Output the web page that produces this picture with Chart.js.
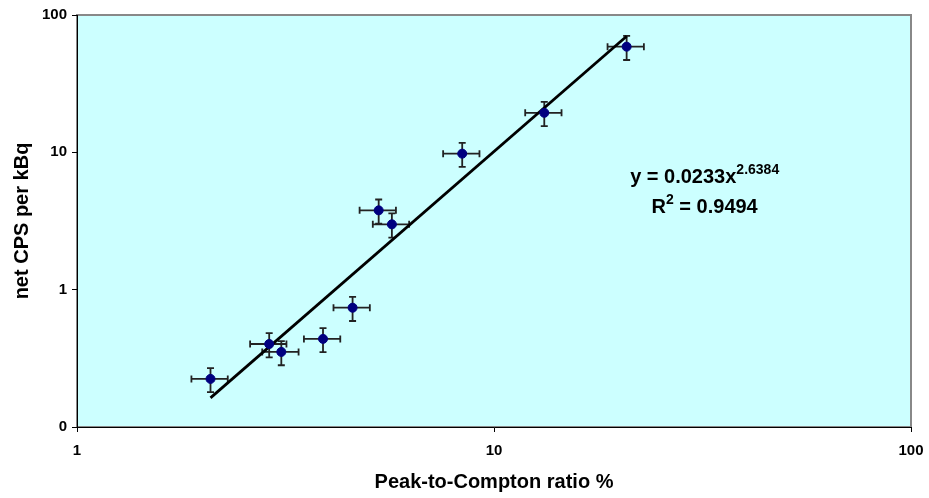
<!DOCTYPE html>
<html lang="en">
<head>
    <meta charset="UTF-8">
    <title>net CPS per kBq vs Peak-to-Compton ratio</title>
    <script src="https://cdn.jsdelivr.net/npm/chart.js"></script>
    <style>
        body {
            margin: 0;
            padding: 0;
            background-color: #ffffff;
        }
        .chart-container {
            position: relative;
            width: 929px;
            height: 498px;
        }
    </style>
</head>
<body>
    <div class="chart-container">
        <canvas id="pcChart"></canvas>
    </div>

    <script>
        const pcRatio = [2.09, 2.89, 3.09, 3.89, 4.58, 5.29, 5.69, 8.39, 13.2, 20.8];
        const cpsPerKBq = [0.224, 0.402, 0.352, 0.438, 0.739, 3.78, 2.99, 9.78, 19.4, 58.8];

        // Percentage error bars (Excel style)
        const xErrPct = 10;
        const yErrPct = 20;

        // Power trendline y = a * x^b
        const fitA = 0.0233;
        const fitB = 2.6384;
        const rSquared = 0.9494;

        // Tick labels
        const xTicks = [1, 10, 100];
        const yTicks = [0.1, 1, 10, 100];
        const yTickLabels = ['0', '1', '10', '100'];

        // where the equation label sits (data units)
        const eqAnchor = { x: 32, y: 6 };

        const FONT = '"Liberation Sans", Arial, Helvetica, sans-serif';
        Chart.defaults.font.family = FONT;
        Chart.defaults.color = '#000';

        const points = pcRatio.map((x, i) => ({ x: x, y: cpsPerKBq[i] }));
        const xMin = Math.min(...pcRatio);
        const xMax = Math.max(...pcRatio);
        const trendPoints = [xMin, xMax].map(x => ({ x: x, y: fitA * Math.pow(x, fitB) }));

        // plot area fill + grey frame
        const plotBackground = {
            id: 'plotBackground',
            beforeDraw(chart) {
                const { ctx, chartArea: a } = chart;
                ctx.save();
                ctx.fillStyle = '#CCFFFF';
                ctx.fillRect(a.left, a.top, a.right - a.left, a.bottom - a.top);
                ctx.strokeStyle = '#888888';
                ctx.lineWidth = 2;
                ctx.strokeRect(a.left, a.top, a.right - a.left, a.bottom - a.top);
                ctx.restore();
            }
        };

        const errorBars = {
            id: 'errorBars',
            beforeDatasetsDraw(chart) {
                const { ctx, scales: { x, y } } = chart;
                const cap = 3.5;
                ctx.save();
                ctx.strokeStyle = '#222222';
                ctx.lineWidth = 1.8;
                points.forEach(p => {
                    const px = x.getPixelForValue(p.x);
                    const py = y.getPixelForValue(p.y);
                    const xl = x.getPixelForValue(p.x * (1 - xErrPct / 100));
                    const xr = x.getPixelForValue(p.x * (1 + xErrPct / 100));
                    const yt = y.getPixelForValue(p.y * (1 + yErrPct / 100));
                    const yb = y.getPixelForValue(p.y * (1 - yErrPct / 100));
                    ctx.beginPath();
                    ctx.moveTo(xl, py); ctx.lineTo(xr, py);
                    ctx.moveTo(xl, py - cap); ctx.lineTo(xl, py + cap);
                    ctx.moveTo(xr, py - cap); ctx.lineTo(xr, py + cap);
                    ctx.moveTo(px, yt); ctx.lineTo(px, yb);
                    ctx.moveTo(px - cap, yt); ctx.lineTo(px + cap, yt);
                    ctx.moveTo(px - cap, yb); ctx.lineTo(px + cap, yb);
                    ctx.stroke();
                });
                ctx.restore();
            }
        };

        const equationLabel = {
            id: 'equationLabel',
            afterDraw(chart) {
                const { ctx, scales: { x, y } } = chart;
                const cx = x.getPixelForValue(eqAnchor.x);
                const by = y.getPixelForValue(eqAnchor.y);
                const big = 'bold 20px ' + FONT;
                const small = 'bold 14px ' + FONT;

                ctx.save();
                ctx.fillStyle = '#000';
                ctx.textBaseline = 'alphabetic';
                ctx.textAlign = 'left';

                // line 1: y = 0.0233x^2.6384
                const t1 = 'y = ' + fitA.toFixed(4) + 'x';
                const s1 = fitB.toFixed(4);
                ctx.font = big; const w1 = ctx.measureText(t1).width;
                ctx.font = small; const ws1 = ctx.measureText(s1).width;
                let left = cx - (w1 + ws1) / 2;
                ctx.font = big; ctx.fillText(t1, left, by);
                ctx.font = small; ctx.fillText(s1, left + w1, by - 9);

                // line 2: R^2 = 0.9494
                const by2 = by + 30;
                const r = 'R';
                const rest = ' = ' + rSquared.toFixed(4);
                ctx.font = big; const wr = ctx.measureText(r).width; const wrest = ctx.measureText(rest).width;
                ctx.font = small; const w2 = ctx.measureText('2').width;
                left = cx - (wr + w2 + wrest) / 2;
                ctx.font = big; ctx.fillText(r, left, by2);
                ctx.font = small; ctx.fillText('2', left + wr, by2 - 9);
                ctx.font = big; ctx.fillText(rest, left + wr + w2, by2);
                ctx.restore();
            }
        };

        const ctx = document.getElementById('pcChart').getContext('2d');
        const pcChart = new Chart(ctx, {
            type: 'scatter',
            data: {
                datasets: [{
                    label: 'net CPS per kBq',
                    data: points,
                    backgroundColor: '#000080',
                    borderColor: '#000080',
                    pointRadius: 4.5,
                    pointHoverRadius: 4.5,
                    order: 0
                }, {
                    label: 'Power fit',
                    type: 'line',
                    data: trendPoints,
                    borderColor: '#000000',
                    borderWidth: 2.8,
                    pointRadius: 0,
                    fill: false,
                    order: 1
                }]
            },
            options: {
                responsive: true,
                maintainAspectRatio: false,
                animation: false,
                layout: {
                    padding: { top: 15, right: 18, left: 0, bottom: 0 }
                },
                plugins: {
                    legend: { display: false },
                    tooltip: { enabled: false }
                },
                scales: {
                    x: {
                        type: 'logarithmic',
                        min: 1,
                        max: 100,
                        afterBuildTicks: scale => { scale.ticks = xTicks.map(v => ({ value: v })); },
                        afterFit: scale => {
                            scale.height = 71;
                            scale.paddingLeft = 0;
                            scale.paddingRight = 0;
                        },
                        ticks: {
                            font: { size: 15, weight: 'bold' },
                            color: '#000',
                            padding: 10,
                            maxRotation: 0,
                            callback: v => String(v)
                        },
                        grid: {
                            drawOnChartArea: false,
                            tickLength: 5,
                            color: '#000'
                        },
                        border: { color: '#000', width: 1 },
                        title: {
                            display: true,
                            text: 'Peak-to-Compton ratio %',
                            font: { size: 20, weight: 'bold' },
                            color: '#000',
                            padding: { top: 0, bottom: 4 }
                        }
                    },
                    y: {
                        type: 'logarithmic',
                        min: 0.1,
                        max: 100,
                        afterBuildTicks: scale => { scale.ticks = yTicks.map(v => ({ value: v })); },
                        afterFit: scale => {
                            scale.width = 77;
                            scale.paddingTop = 0;
                            scale.paddingBottom = 0;
                        },
                        ticks: {
                            font: { size: 15, weight: 'bold' },
                            color: '#000',
                            padding: 5,
                            callback: v => yTickLabels[yTicks.indexOf(v)]
                        },
                        grid: {
                            drawOnChartArea: false,
                            tickLength: 5,
                            color: '#000'
                        },
                        border: { color: '#000', width: 1 },
                        title: {
                            display: true,
                            text: 'net CPS per kBq',
                            font: { size: 20, weight: 'bold' },
                            color: '#000',
                            padding: { top: 10, bottom: 0 }
                        }
                    }
                }
            },
            plugins: [plotBackground, errorBars, equationLabel]
        });
    </script>
</body>
</html>
